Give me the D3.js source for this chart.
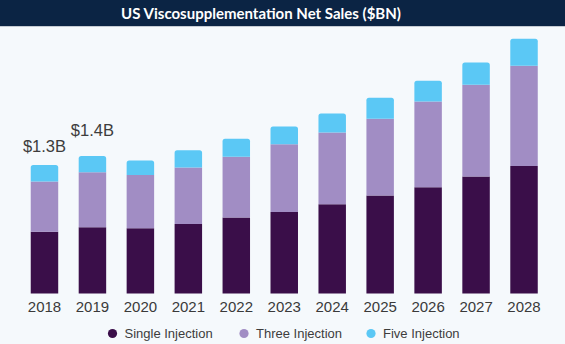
<!DOCTYPE html>
<html><head><meta charset="utf-8">
<script src="https://cdn.jsdelivr.net/npm/d3@7"></script>
<style>html,body{margin:0;padding:0;background:#f5f9fc;}svg{display:block;}</style>
</head><body>
<script>
const years = ["2018","2019","2020","2021","2022","2023","2024","2025","2026","2027","2028"];
const singleInjection = [0.627,0.672,0.662,0.706,0.770,0.827,0.906,0.995,1.078,1.186,1.294];
const threeInjection  = [0.508,0.558,0.541,0.572,0.616,0.687,0.727,0.777,0.869,0.931,1.015];
const fiveInjection   = [0.169,0.165,0.145,0.176,0.183,0.179,0.193,0.213,0.210,0.226,0.274];
const seriesNames = ["Single Injection","Three Injection","Five Injection"];
const seriesColors = ["#3a0e49","#a18dc4","#5bc8f5"];
const labelYears = ["2018","2019"];
const labelTexts = ["$1.3B","$1.4B"];
const title = "US Viscosupplementation Net Sales ($BN)";

const W=565,H=344;
const svg=d3.select("body").append("svg").attr("width",W).attr("height",H);
svg.append("rect").attr("width",W).attr("height",H).attr("fill","#f5f9fc");
svg.append("rect").attr("width",W).attr("height",26).attr("fill","#0b2444");
svg.append("line").attr("x1",0).attr("x2",W).attr("y1",26.5).attr("y2",26.5).attr("stroke","#c5cbd3").attr("stroke-width",1);
const tt=svg.append("text").attr("x",261).attr("y",19).attr("text-anchor","middle")
  .attr("fill","#ffffff").attr("font-family","Lato, 'Open Sans', sans-serif").attr("font-weight","bold")
  .attr("font-size",16).text(title);
let tl=tt.node().getComputedTextLength();
if(tl>0){tt.attr("font-size",16*280/tl);}

const x=d3.scaleBand().domain(years).range([20.5,548]).paddingInner(0.427).paddingOuter(0.2135);
const y=d3.scaleLinear().domain([0,2.6]).range([293.5,293.5-2.6*98.6]);

const data=years.map((yr,i)=>({year:yr,"Single Injection":singleInjection[i],"Three Injection":threeInjection[i],"Five Injection":fiveInjection[i]}));
const stacked=d3.stack().keys(seriesNames)(data);

function barPath(x0,w,yTop,yBot,r){
  r=Math.min(r,(yBot-yTop)/2);
  return `M${x0},${yBot}V${yTop+r}Q${x0},${yTop} ${x0+r},${yTop}H${x0+w-r}Q${x0+w},${yTop} ${x0+w},${yTop+r}V${yBot}Z`;
}
stacked.forEach((s,si)=>{
  svg.append("g").selectAll("path").data(s).join("path")
    .attr("d",d=>barPath(x(d.data.year),x.bandwidth(),y(d[1]),y(d[0]),si===2?2.5:0))
    .attr("fill",seriesColors[si]);
});

// x axis labels
const xAxis=d3.axisBottom(x).tickSize(0).tickPadding(0);
const gx=svg.append("g").attr("transform","translate(0,298)").call(xAxis);
gx.select(".domain").remove();
gx.selectAll("text").attr("font-family","'Liberation Sans', Arial, sans-serif").attr("font-size",15).attr("fill","#3a3a3a").attr("dy","0.9em");

// value labels
const labelGap=[12.7,20];
svg.append("g").selectAll("text").data(labelYears).join("text")
  .attr("x",d=>x(d)+x.bandwidth()/2)
  .attr("y",(d,k)=>{const i=years.indexOf(d);return y(singleInjection[i]+threeInjection[i]+fiveInjection[i])-labelGap[k];})
  .attr("text-anchor","middle").attr("font-family","'Liberation Sans', Arial, sans-serif")
  .attr("font-size",16.5).attr("fill","#3d3d3d").text((d,k)=>labelTexts[k]);

// legend
const legX=[112.5,244,371];
const lg=svg.append("g").selectAll("g").data(seriesNames).join("g")
  .attr("transform",(d,i)=>`translate(${legX[i]},333.5)`);
lg.append("circle").attr("r",4.6).attr("fill",(d,i)=>seriesColors[i]);
lg.append("text").attr("x",12).attr("y",4.5).attr("font-family","'Liberation Sans', Arial, sans-serif")
  .attr("font-size",13).attr("fill","#3d3d3d").text(d=>d);
</script>
</body></html>
